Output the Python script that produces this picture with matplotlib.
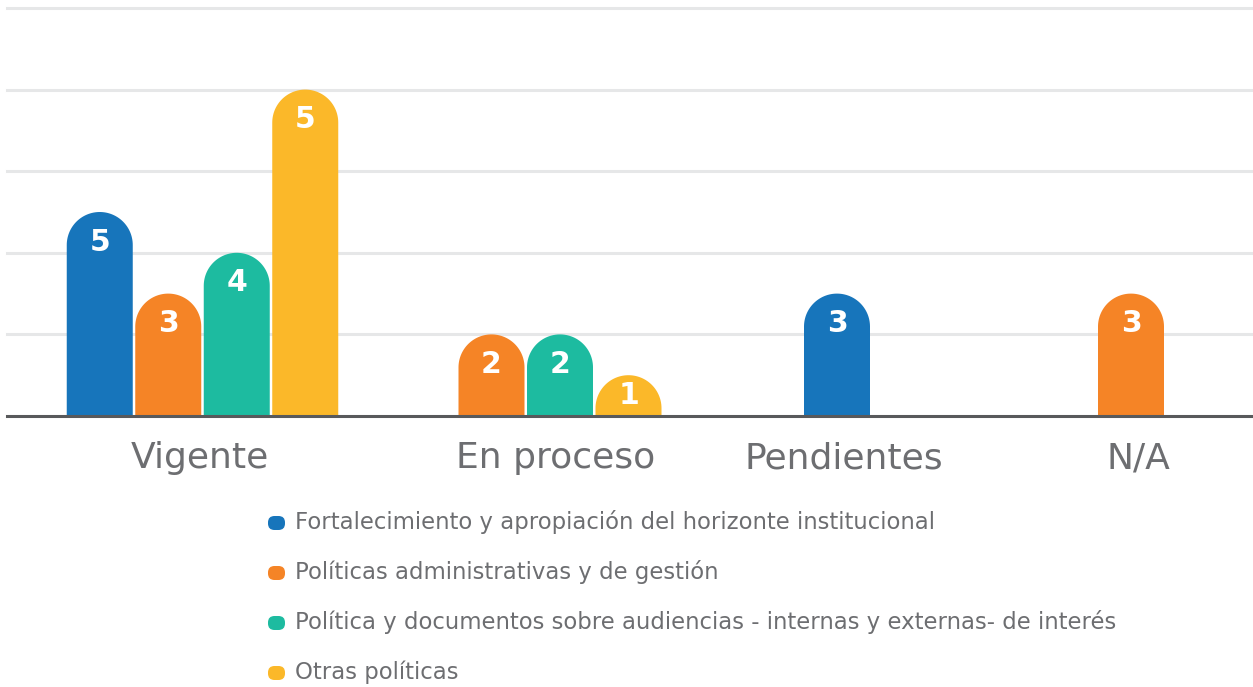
import matplotlib
matplotlib.use("Agg")
import matplotlib.pyplot as plt
import numpy as np
from matplotlib.patches import Polygon, FancyBboxPatch

# ---------------- data ----------------
categories = ["Vigente", "En proceso", "Pendientes", "N/A"]
series_names = [
    "Fortalecimiento y apropiación del horizonte institucional",
    "Políticas administrativas y de gestión",
    "Política y documentos sobre audiencias - internas y externas- de interés",
    "Otras políticas",
]
# bar heights as drawn on the chart's gridded scale (None = no bar)
fortalecimiento_heights = [2.5, None, 1.5, None]
administrativas_heights = [1.5, 1.0, None, 1.5]
audiencias_heights = [2.0, 1.0, None, None]
otras_heights = [4.0, 0.5, None, None]
# value labels printed on the bars
fortalecimiento_labels = ["5", None, "3", None]
administrativas_labels = ["3", "2", None, "3"]
audiencias_labels = ["4", "2", None, None]
otras_labels = ["5", "1", None, None]

series_heights = [fortalecimiento_heights, administrativas_heights,
                  audiencias_heights, otras_heights]
series_labels = [fortalecimiento_labels, administrativas_labels,
                 audiencias_labels, otras_labels]

# ---------------- style / layout ----------------
colors = ["#1775BB", "#F58426", "#1DBBA0", "#FBB829"]
text_gray = "#6D6E71"
grid_color = "#E6E7E8"
base_color = "#58595B"

W, H = 1253, 687
DPI = 100
fig = plt.figure(figsize=(W / DPI, H / DPI), dpi=DPI)
fig.patch.set_facecolor("white")

px_left, px_right, px_base = 7, 1253, 416
unit_px = 81.6
ax = fig.add_axes([px_left / W, 1 - px_base / H, (px_right - px_left) / W, px_base / H])
ax.set_xlim(px_left, px_right)
ax.set_ylim(0, px_base / unit_px)
ax.axis("off")

group_centers = [202.5, 560, 837, 1131]
label_centers = [200, 556, 844, 1138]
bar_w = 66
step = 68.5

for g in range(1, 6):
    ax.axhline(g, color=grid_color, lw=2.2, zorder=0, clip_on=False)
ax.axhline(0, color=base_color, lw=2.2, zorder=5, clip_on=False)

fig.canvas.draw()
# conversion from x-units to y-units so the bar tops are true semicircles
p0 = ax.transData.transform((0, 0))
p1 = ax.transData.transform((1, 1))
x_px_per_unit = p1[0] - p0[0]
y_px_per_unit = p1[1] - p0[1]
rx = bar_w / 2
ry = rx * x_px_per_unit / y_px_per_unit
label_drop = 30 / y_px_per_unit


def rounded_bar(xc, h, color):
    t = np.linspace(np.pi, 0, 60)
    arc = np.column_stack([xc + rx * np.cos(t), (h - ry) + ry * np.sin(t)])
    pts = np.vstack([[xc - rx, 0], arc, [xc + rx, 0]])
    ax.add_patch(Polygon(pts, closed=True, facecolor=color, edgecolor="none", zorder=2))


for ci, c in enumerate(categories):
    present = [si for si in range(len(series_heights)) if series_heights[si][ci] is not None]
    n = len(present)
    for k, si in enumerate(present):
        xc = group_centers[ci] + (k - (n - 1) / 2) * step
        h = series_heights[si][ci]
        rounded_bar(xc, h, colors[si])
        ly = h - min(label_drop, h / 2)
        ax.text(xc, ly, series_labels[si][ci], ha="center", va="center",
                color="white", fontsize=21.5, fontweight="bold", zorder=3)
    ax.annotate(c, xy=(label_centers[ci], 0), xycoords=("data", "axes fraction"),
                xytext=(0, -52 * 72 / DPI), textcoords="offset points",
                ha="center", va="baseline", fontsize=26, color=text_gray)

# ---------------- legend ----------------
lax = fig.add_axes([0, 0, 1, 1], zorder=10)
lax.set_xlim(0, W)
lax.set_ylim(H, 0)
lax.axis("off")
for i, name in enumerate(series_names):
    yc = 523 + 50 * i
    lax.add_patch(FancyBboxPatch((268, yc - 7), 17, 14,
                                 boxstyle="round,pad=0,rounding_size=6.5",
                                 facecolor=colors[i], edgecolor="none"))
    lax.text(295, yc + 6, name, ha="left", va="baseline",
             fontsize=16.4, color=text_gray)

fig.savefig("out.png", dpi=DPI, facecolor="white")
